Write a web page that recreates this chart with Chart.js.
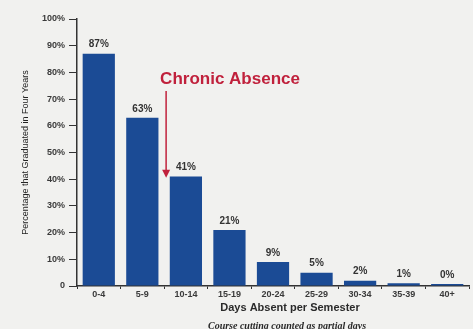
<!DOCTYPE html>
<html>
<head>
<meta charset="utf-8">
<script src="https://cdn.jsdelivr.net/npm/chart.js@4.4.1/dist/chart.umd.min.js"></script>
<style>
  html, body { margin: 0; padding: 0; background: #f1f1ef; }
  #wrap { width: 473px; height: 329px; }
</style>
</head>
<body>
<div id="wrap"><canvas id="absenceChart" width="473" height="329"></canvas></div>
<script>
const categories = ['0-4', '5-9', '10-14', '15-19', '20-24', '25-29', '30-34', '35-39', '40+'];
const gradRates = [87, 63, 41, 21, 9, 5, 2, 1, 0];
const yTicks = [0, 10, 20, 30, 40, 50, 60, 70, 80, 90, 100];

const barBlue = '#1b4b95';
const red = '#c0213c';

// background, value labels, annotation, axis titles
const extras = {
    id: 'extras',
    beforeDraw(chart) {
        const ctx = chart.ctx;
        ctx.save();
        ctx.fillStyle = '#f1f1ef';
        ctx.fillRect(0, 0, chart.width, chart.height);
        ctx.restore();
    },
    afterDatasetsDraw(chart) {
        const ctx = chart.ctx;
        const meta = chart.getDatasetMeta(0);
        const xs = chart.scales.x;
        const ys = chart.scales.y;

        ctx.save();
        ctx.fillStyle = '#333';
        ctx.font = 'bold 10px "Liberation Sans", Arial, sans-serif';
        ctx.textAlign = 'center';
        ctx.textBaseline = 'bottom';
        meta.data.forEach((bar, i) => {
            ctx.fillText(gradRates[i] + '%', bar.x, bar.y - 4);
        });

        // chronic absence arrow
        const ax = xs.getPixelForValue(1.5) + 2;
        const y0 = ys.getPixelForValue(73);
        const y1 = ys.getPixelForValue(40.5);
        ctx.strokeStyle = red;
        ctx.fillStyle = red;
        ctx.lineWidth = 1.5;
        ctx.beginPath();
        ctx.moveTo(ax, y0);
        ctx.lineTo(ax, y1 - 6);
        ctx.stroke();
        ctx.beginPath();
        ctx.moveTo(ax, y1);
        ctx.lineTo(ax - 4, y1 - 8);
        ctx.lineTo(ax + 4, y1 - 8);
        ctx.closePath();
        ctx.fill();

        ctx.font = 'bold 17px "Liberation Sans", Arial, sans-serif';
        ctx.textAlign = 'left';
        ctx.textBaseline = 'middle';
        ctx.fillText('Chronic Absence', ax - 6, ys.getPixelForValue(77.5));

        // x axis titles
        ctx.fillStyle = '#2a2a2a';
        ctx.textAlign = 'center';
        ctx.font = 'bold 11px "Liberation Sans", Arial, sans-serif';
        ctx.fillText('Days Absent per Semester', 290, 308);
        ctx.font = 'italic bold 10px "Liberation Serif", serif';
        ctx.textBaseline = 'top';
        ctx.fillText('Course cutting counted as partial days', 287, 321);
        ctx.restore();
    }
};

const ctx = document.getElementById('absenceChart').getContext('2d');
const absenceChart = new Chart(ctx, {
    type: 'bar',
    data: {
        labels: categories,
        datasets: [{
            data: gradRates,
            backgroundColor: barBlue,
            borderWidth: 0,
            barPercentage: 0.74,
            categoryPercentage: 1,
            minBarLength: 2
        }]
    },
    options: {
        responsive: false,
        animation: false,
        layout: { padding: { top: 19, right: 4, bottom: 0, left: 0 } },
        plugins: {
            legend: { display: false },
            tooltip: { enabled: false }
        },
        scales: {
            x: {
                afterFit: (scale) => { scale.height = 43; },
                grid: {
                    offset: true,
                    drawOnChartArea: false,
                    drawTicks: true,
                    tickLength: 3,
                    color: '#333'
                },
                border: { display: true, color: '#333', width: 1.5 },
                ticks: {
                    padding: 0,
                    color: '#3a3a3a',
                    font: { family: '"Liberation Sans", Arial, sans-serif', size: 9, weight: 'bold' }
                }
            },
            y: {
                min: 0,
                max: 100,
                afterFit: (scale) => { scale.width = 77; },
                afterBuildTicks: (scale) => {
                    scale.ticks = yTicks.map(v => ({ value: v }));
                },
                grid: {
                    drawOnChartArea: false,
                    drawTicks: true,
                    tickLength: 8,
                    color: '#333'
                },
                border: { display: true, color: '#333', width: 1.5 },
                ticks: {
                    padding: 4,
                    color: '#3a3a3a',
                    font: { family: '"Liberation Sans", Arial, sans-serif', size: 9, weight: 'bold' },
                    callback: (v) => v === 0 ? '0' : v + '%'
                },
                title: {
                    display: true,
                    text: 'Percentage that Graduated in Four Years',
                    color: '#222',
                    padding: { top: 20, bottom: 0 },
                    font: { family: '"Liberation Sans Narrow", "Liberation Sans", Arial, sans-serif', size: 9 }
                }
            }
        }
    },
    plugins: [extras]
});
</script>
</body>
</html>
